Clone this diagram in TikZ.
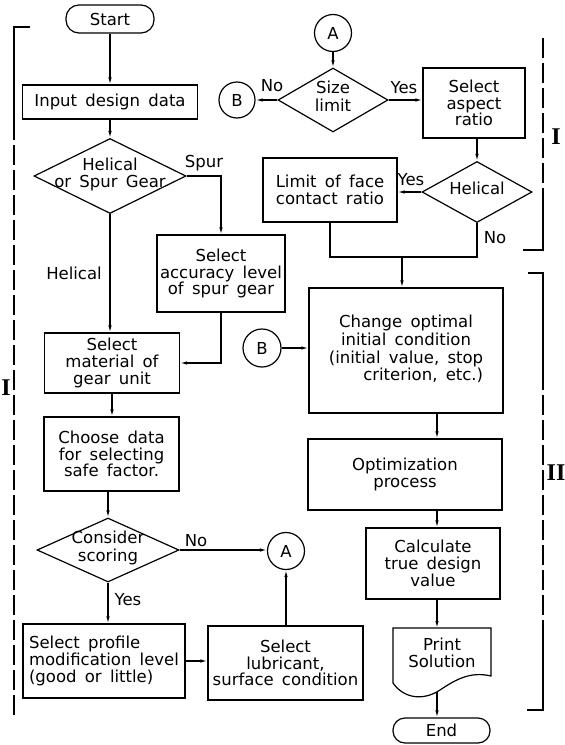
\documentclass[tikz,border=0pt]{standalone}
\usepackage{fontspec}
\setmainfont{DejaVu Sans}
\newfontfamily\romanf{Liberation Serif}
\usetikzlibrary{shapes.geometric,arrows.meta,calc}
\newcommand\dtext[1]{\makebox[0pt]{\smash{\raisebox{-0.2em}{\begin{tabular}{@{}c@{}}#1\end{tabular}}}}}
\newcommand\nodefont{\fontsize{16.5}{16.8}\selectfont\spaceskip 0.5em plus 0.1em\relax}
\begin{document}
\begin{tikzpicture}[x=1pt,y=-1pt,
  every node/.style={font=\nodefont},
  box/.style={draw, line width=1.2pt, rectangle, inner sep=0pt, align=center},
  dia/.style={draw, diamond, line width=1.2pt, inner sep=0pt},
  term/.style={draw, line width=1.2pt, rectangle, rounded corners=13pt, inner sep=0pt},
  conn/.style={draw, line width=1.2pt, circle, inner sep=0pt, minimum size=37pt},
  lbl/.style={inner sep=1pt},
  arr/.style={line width=1.2pt, -{Latex[length=7pt,width=3.5pt]}},
  ln/.style={line width=1.2pt},
  dsh/.style={line width=1.2pt, dash pattern=on 20pt off 5pt},
  roman/.style={font=\romanf\bfseries\fontsize{24}{24}\selectfont, inner sep=0pt}]
\useasboundingbox (0,0) rectangle (565,745);

% left column
\node[term, minimum width=88pt, minimum height=28pt] (start) at (110,19) {Start};
\node[box, minimum width=175pt, minimum height=34pt] (input) at (110,102) {Input design data};
\node[dia, minimum width=152pt, minimum height=75pt] (hs) at (110,176) {\dtext{Helical\\or Spur Gear}};
\node[box, minimum width=128pt, minimum height=77pt] (acc) at (221,273.5) {Select\\accuracy level\\of spur gear};
\node[box, minimum width=135pt, minimum height=60pt] (mat) at (112,363) {Select\\material of\\gear unit};
\node[box, minimum width=135pt, minimum height=74pt] (choose) at (111.5,454) {Choose data\\for selecting\\safe factor.};
\node[dia, minimum width=142pt, minimum height=64pt] (cons) at (108,550) {\dtext{Consider\\scoring}};
\node[box, minimum width=162pt, minimum height=74pt, align=left] (prof) at (104,661) {Select profile\\modification level\\(good or little)};
\node[box, minimum width=155pt, minimum height=74pt] (lub) at (285.5,663) {Select\\lubricant,\\surface condition};
\node[conn] (A2) at (286,551) {A};

% right column
\node[conn] (A1) at (333,33) {A};
\node[dia, minimum width=110pt, minimum height=64pt] (size) at (333,100) {\dtext{Size\\limit}};
\node[conn, minimum size=36pt] (B1) at (237,100) {B};
\node[box, minimum width=102pt, minimum height=70pt] (asp) at (474,103) {Select\\aspect\\ratio};
\node[dia, minimum width=110pt, minimum height=61pt] (hel) at (477,192) {\dtext{Helical}};
\node[box, minimum width=134pt, minimum height=64pt] (lim) at (330,190) {Limit of face\\contact ratio};
\coordinate (mg) at (402,257);
\node[box, minimum width=194pt, minimum height=125pt] (chg) at (406,350.5) {\begin{tabular}{@{}c@{}}Change optimal\\initial condition\\(initial value, stop\\\multicolumn{1}{@{}r@{}}{criterion, etc.)}\end{tabular}};
\node[conn, minimum size=38pt] (B2) at (262,348) {B};
\node[box, minimum width=194pt, minimum height=71pt] (opt) at (405,474.5) {Optimization\\process};
\node[box, minimum width=134pt, minimum height=71pt] (calc) at (433,563.5) {Calculate\\true design\\value};
\draw[ln] (393,628) -- (491,628) -- (491,676)
  .. controls (470,671) and (455,680) .. (440,690)
  .. controls (425,700) and (405,700) .. (393,683) -- cycle;
\node[align=center, inner sep=0pt] (prt) at (442,653) {Print\\Solution};
\coordinate (rc) at (437,0);
\coordinate (ptop) at (437,628);
\coordinate (pbot) at (437,692);
\node[term, minimum width=97pt, minimum height=25pt, rounded corners=12pt] (end) at (441.5,730.5) {End};

% connectors left
\draw[arr] (start) -- (input);
\draw[arr] (input) -- (hs);
\draw[arr] (hs.east) -| (acc.north);
\draw[arr] (hs.south) -- (hs.south |- mat.north);
\draw[arr] (acc.south) |- (mat.east);
\draw[arr] (mat.south) -- (mat.south |- choose.north);
\draw[arr] (choose.south -| cons.north) -- (cons.north);
\draw[arr] (cons.south) -- (cons.south |- prof.north);
\draw[arr] (cons.east) -- (cons.east -| A2.west);
\draw[arr] (prof.east) -- (prof.east -| lub.west);
\draw[arr] (lub.north -| A2.south) -- (A2.south);

% connectors right
\draw[arr] (A1) -- (size);
\draw[arr] (size.west) -- (B1.east);
\draw[arr] (size.east) -- (size.east -| asp.west);
\draw[arr] (asp.south -| hel.north) -- (hel.north);
\draw[arr] (hel.west) -- (hel.west -| lim.east);
\draw[ln] (lim.south) |- (mg) -| (hel.south);
\draw[arr] (mg) -- (mg |- chg.north);
\draw[arr] (B2.east) -- (B2.east -| chg.west);
\draw[arr] (chg.south -| rc) -- (opt.north -| rc);
\draw[arr] (opt.south -| rc) -- (calc.north -| rc);
\draw[arr] (calc.south -| rc) -- (ptop);
\draw[arr] (pbot) -- (pbot |- end.north);

% labels
\node[lbl] (tSpur) at (204,163) {Spur};
\node[lbl] (tHel) at (74,273) {Helical};
\node[lbl] (tNo1) at (196,541) {No};
\node[lbl] (tYes1) at (128,600) {Yes};
\node[lbl] (tNo2) at (272,86) {No};
\node[lbl] (tYes2) at (404,88) {Yes};
\node[lbl] (tYes3) at (411,180) {Yes};
\node[lbl] (tNo3) at (495,238) {No};

% brackets
\draw[ln] (30,27) -- (14,27) -- (14,120);
\draw[dsh] (14,120) -- (14,715);
\node[roman] (r1) at (6,388) {I};
\draw[dsh] (543,38) -- (543,190);
\draw[ln] (543,190) -- (543,250) -- (523,250);
\node[roman] (r2) at (556,137) {I};
\draw[ln] (528,273) -- (543,273) -- (543,370);
\draw[dsh] (543,370) -- (543,623);
\draw[ln] (543,623) -- (543,710) -- (527,710);
\node[roman] (r3) at (556,473) {II};
\end{tikzpicture}
\end{document}
